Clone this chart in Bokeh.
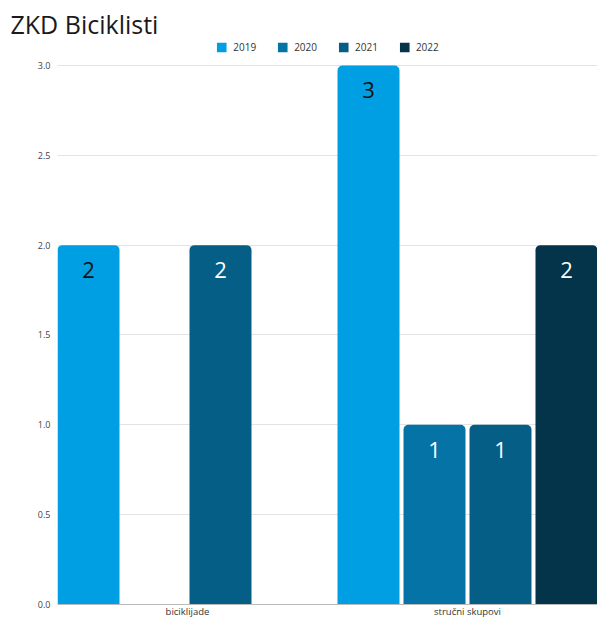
from bokeh.plotting import figure
from bokeh.models import FactorRange, Range1d, FixedTicker, PrintfTickFormatter, Legend, ColumnDataSource
from bokeh.transform import dodge
from bokeh.embed import file_html
from bokeh.resources import INLINE
from bokeh.core.properties import value

categories = ["biciklijade", "stručni skupovi"]
years = ["2019", "2020", "2021", "2022"]
values_2019 = [2, 3]
values_2020 = [0, 1]
values_2021 = [2, 1]
values_2022 = [0, 2]
y_ticks = [0.0, 0.5, 1.0, 1.5, 2.0, 2.5, 3.0]
series = {"2019": values_2019, "2020": values_2020, "2021": values_2021, "2022": values_2022}
colors = {"2019": "#009FE3", "2020": "#0573A6", "2021": "#055E86", "2022": "#04344A"}
label_colors = {"2019": "#111111", "2020": "#ffffff", "2021": "#ffffff", "2022": "#ffffff"}

FONT = "Open Sans"
step = 0.2357
bar_w = 0.2214
offsets = {"2019": -1.5 * step, "2020": -0.5 * step, "2021": 0.5 * step, "2022": 1.5 * step}

p = figure(frame_width=540, frame_height=564, output_backend="svg", toolbar_location=None,
           x_range=FactorRange(*categories, range_padding=-0.0357, range_padding_units="absolute"),
           y_range=Range1d(0, 3.139),
           min_border_left=57, min_border_right=0, min_border_bottom=0, min_border_top=40)

p.title.text = "ZKD Biciklisti"
p.title.text_font = FONT
p.title.text_font_size = "25px"
p.title.text_font_style = "normal"
p.title.text_color = "#1a1a1a"
p.title.offset = -47
p.title.standoff = 0

items = []
for y in years:
    vals = series[y]
    src = ColumnDataSource(dict(cat=categories, top=vals))
    r = p.vbar(x=dodge("cat", offsets[y], range=p.x_range), top="top", width=bar_w, source=src,
               fill_color=colors[y], line_color=None, border_radius=(5, 5, 0, 0))
    items.append((y, [r]))
    lc = [c for c, v in zip(categories, vals) if v > 0]
    lv = [v for v in vals if v > 0]
    lsrc = ColumnDataSource(dict(cat=lc, y=lv, t=[str(v) for v in lv]))
    p.text(x=dodge("cat", offsets[y], range=p.x_range), y="y", text="t", source=lsrc,
           text_align="center", text_baseline="middle",
           y_offset=25, text_font=value(FONT), text_font_size="22px", text_color=label_colors[y])

legend = Legend(items=items, orientation="horizontal", location="top_center",
                label_text_font=FONT, label_text_font_size="10px", label_text_color="#333333",
                glyph_width=12, glyph_height=12, label_standoff=6, spacing=20,
                border_line_color=None, background_fill_alpha=0, padding=2, margin=0)
p.add_layout(legend, "center")

p.yaxis.ticker = FixedTicker(ticks=y_ticks)
p.yaxis.formatter = PrintfTickFormatter(format="%.1f")
p.yaxis.axis_line_color = None
p.yaxis.major_tick_line_color = None
p.yaxis.minor_tick_line_color = None
p.yaxis.major_tick_out = 0
p.yaxis.major_label_text_font = FONT
p.yaxis.major_label_text_font_size = "9px"
p.yaxis.major_label_text_color = "#444444"
p.yaxis.major_label_standoff = 7

p.xaxis.axis_line_color = "#bbbbbb"
p.xaxis.major_tick_line_color = None
p.xaxis.minor_tick_line_color = None
p.xaxis.major_tick_out = 0
p.xaxis.major_tick_in = 0
p.xaxis.major_label_text_font = FONT
p.xaxis.major_label_text_font_size = "9.5px"
p.xaxis.major_label_text_color = "#333333"
p.xaxis.major_label_standoff = 0

p.xgrid.grid_line_color = None
p.ygrid.grid_line_color = "#e3e3e3"
p.outline_line_color = None

open("out.html", "w").write(file_html(p, INLINE))
